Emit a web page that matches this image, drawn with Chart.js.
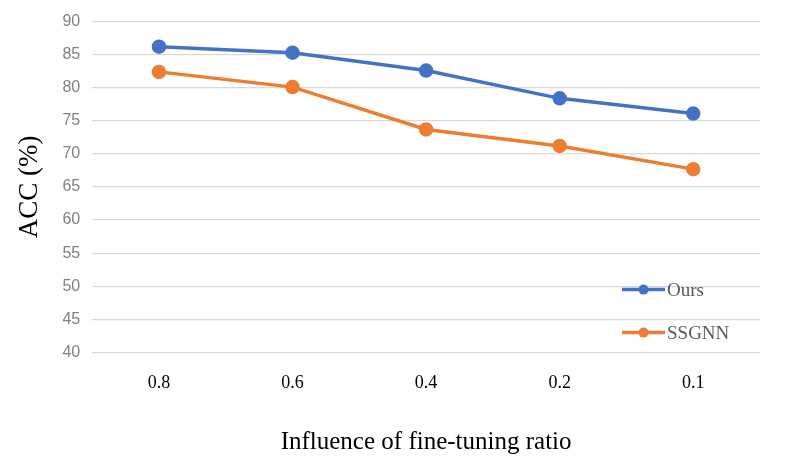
<!DOCTYPE html>
<html><head><meta charset="utf-8">
<script src="https://cdn.jsdelivr.net/npm/chart.js@4/dist/chart.umd.min.js"></script>
<style>html,body{margin:0;padding:0;background:#fff}#wrap{width:798px;height:469px}</style>
</head><body><div id="wrap"><canvas id="c"></canvas></div>
<script>
const categories = ["0.8","0.6","0.4","0.2","0.1"];
const ours = [86.2, 85.3, 82.6, 78.4, 76.1];
const ssgnn = [82.4, 80.1, 73.7, 71.2, 67.7];
const seriesNames = ["Ours","SSGNN"];
const colors = ["#4472C4","#ED7D31"];

const legendPlugin = {
  id: 'inlineLegend',
  afterDraw(chart) {
    const ctx = chart.ctx;
    const ca = chart.chartArea;
    const x0 = ca.right - 138, ys = [ca.top + 268, ca.top + 311];
    chart.data.datasets.forEach((ds, i) => {
      const y = ys[i];
      ctx.save();
      ctx.strokeStyle = ds.borderColor; ctx.lineWidth = 3.5;
      ctx.beginPath(); ctx.moveTo(x0, y); ctx.lineTo(x0 + 43, y); ctx.stroke();
      ctx.fillStyle = ds.borderColor;
      ctx.beginPath(); ctx.arc(x0 + 21.5, y, 5, 0, Math.PI*2); ctx.fill();
      ctx.fillStyle = '#595959';
      ctx.font = '19px "Liberation Serif"';
      ctx.textBaseline = 'middle';
      ctx.fillText(ds.label, x0 + 45, y + 1);
      ctx.restore();
    });
  }
};

new Chart(document.getElementById('c'), {
  type: 'line',
  data: {
    labels: categories,
    datasets: [
      {label: seriesNames[0], data: ours, borderColor: colors[0], backgroundColor: colors[0], borderWidth: 3.5, pointRadius: 5.5, pointHoverRadius: 5.5, tension: 0},
      {label: seriesNames[1], data: ssgnn, borderColor: colors[1], backgroundColor: colors[1], borderWidth: 3.5, pointRadius: 5.5, pointHoverRadius: 5.5, tension: 0}
    ]
  },
  options: {
    responsive: true, maintainAspectRatio: false, animation: false,
    layout: {padding: {left: 10, right: 38, top: 9, bottom: 8}},
    plugins: {legend: {display: false}, tooltip: {enabled: false}},
    scales: {
      x: {
        offset: true,
        grid: {display: false, drawTicks: false},
        border: {display: false},
        ticks: {color: '#000', font: {family: 'Liberation Serif', size: 18}, padding: 20},
        title: {display: true, text: 'Influence of fine-tuning ratio', color: '#000', font: {family: 'Liberation Serif', size: 25}, padding: {top: 13}}
      },
      y: {
        min: 40, max: 90,
        grid: {color: '#d9d9d9', lineWidth: 1.3, drawTicks: false},
        border: {display: false},
        ticks: {stepSize: 5, color: '#808080', font: {family: 'Liberation Sans', size: 16}, padding: 12},
        title: {display: true, text: 'ACC (%)', color: '#000', font: {family: 'Liberation Serif', size: 27}, padding: {bottom: 4}}
      }
    }
  },
  plugins: [legendPlugin]
});
</script></body></html>
